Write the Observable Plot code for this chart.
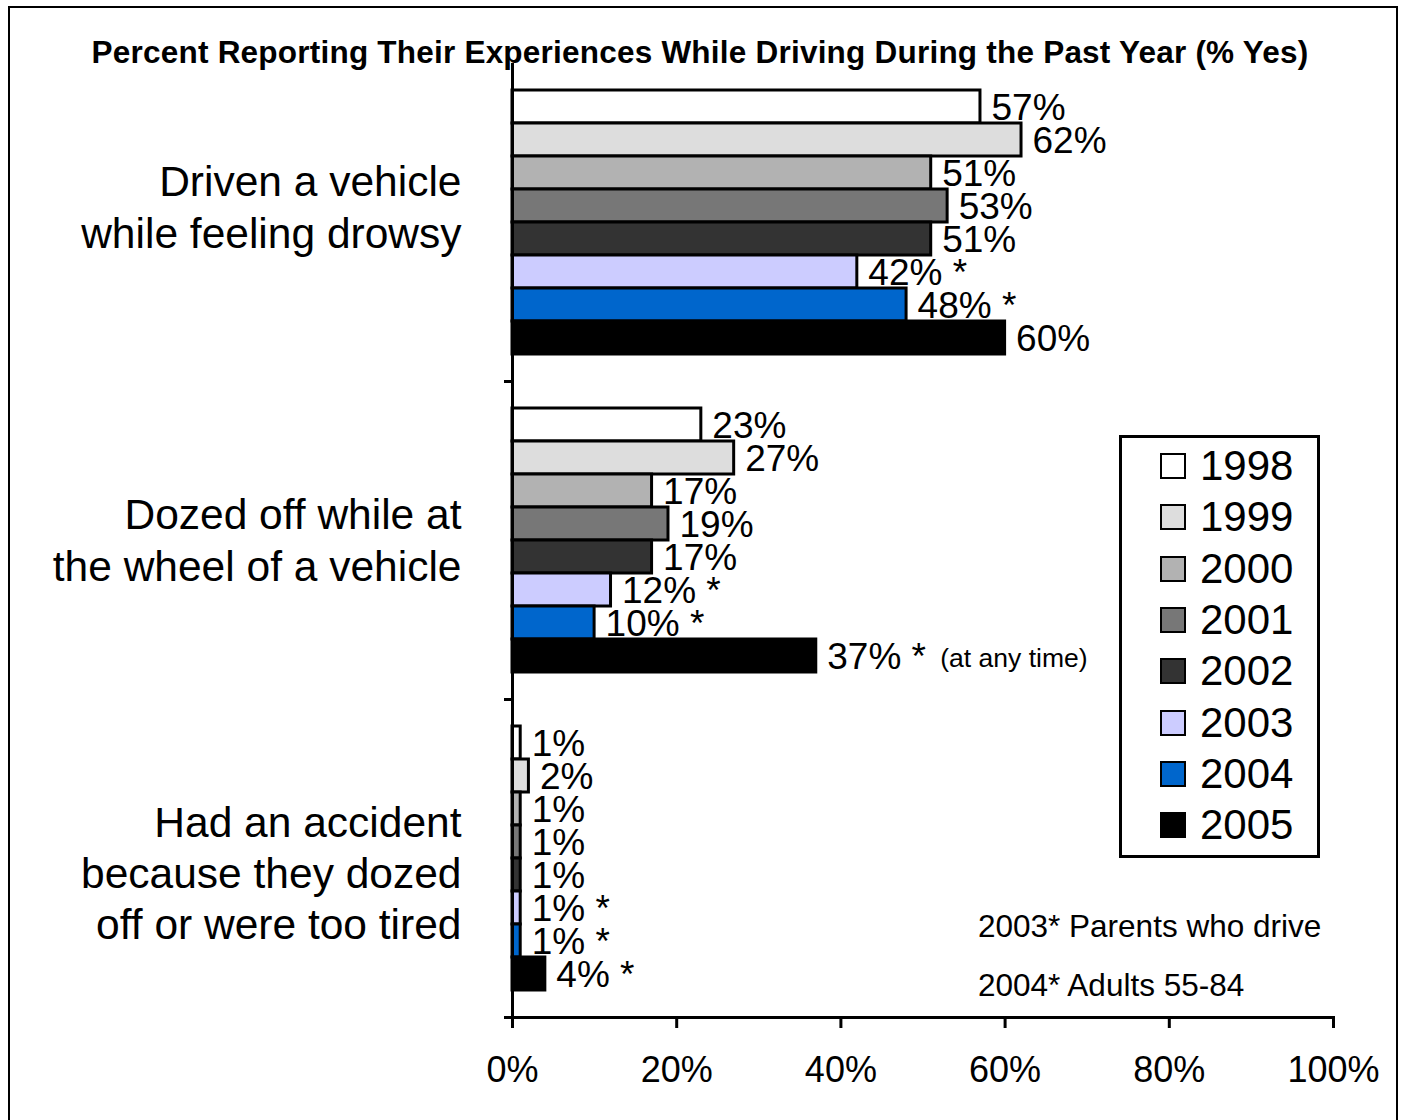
<!DOCTYPE html>
<html>
<head>
<meta charset="utf-8">
<script src="https://cdn.jsdelivr.net/npm/d3@7"></script>
<script src="https://cdn.jsdelivr.net/npm/@observablehq/plot@0.6"></script>
<style>
  body { margin: 0; background: #fff; font-family: Arial, "Liberation Sans", sans-serif; }
  #wrap { position: relative; width: 1404px; height: 1120px; overflow: hidden; }
  #border { position: absolute; left: 8px; top: 6px; width: 1390px; height: 1120px; border: 2px solid #000; box-sizing: border-box; }
  #chart { position: absolute; left: 0; top: 0; }
  #title { position: absolute; left: 0; width: 1400px; top: 32px; text-align: center; font-weight: bold; font-size: 31.5px; letter-spacing: 0.22px; line-height: 40px; }
  #legend { position: absolute; left: 1119px; top: 435px; width: 201px; height: 423px; border: 3px solid #000; box-sizing: border-box; background: #fff; }
  .row { position: absolute; left: 38px; height: 50px; display: flex; align-items: center; font-size: 42px; }
  .sw { width: 22px; height: 22px; border: 2px solid #000; margin-right: 14px; }
  .note { position: absolute; left: 978px; font-size: 31.5px; line-height: 36px; }
</style>
</head>
<body>
<div id="wrap">
  <div id="border"></div>
  <div id="chart"></div>
  <div id="title">Percent Reporting Their Experiences While Driving During the Past Year (% Yes)</div>
  <div id="legend"></div>
  <div class="note" id="note1" style="top:908px"></div>
  <div class="note" id="note2" style="top:967px"></div>
</div>
<script>
const categories = ["Driven a vehicle while feeling drowsy", "Dozed off while at the wheel of a vehicle", "Had an accident because they dozed off or were too tired"];
const categoryLabels = ["Driven a vehicle\nwhile feeling drowsy", "Dozed off while at\nthe wheel of a vehicle", "Had an accident\nbecause they dozed\noff or were too tired"];
const years = ["1998", "1999", "2000", "2001", "2002", "2003", "2004", "2005"];
const drowsy   = [57, 62, 51, 53, 51, 42, 48, 60];
const dozedOff = [23, 27, 17, 19, 17, 12, 10, 37];
const accident = [1, 2, 1, 1, 1, 1, 1, 4];
const starredDrowsy   = [false, false, false, false, false, true, true, false];
const starredDozedOff = [false, false, false, false, false, true, true, true];
const starredAccident = [false, false, false, false, false, true, true, true];
const extraNote = {category: categories[1], year: "2005", text: "(at any time)"};
const xTicks = [0, 20, 40, 60, 80, 100];
const notes = ["2003* Parents who drive", "2004* Adults 55-84"];
const colors = ["#ffffff", "#dddddd", "#b2b2b2", "#777777", "#333333", "#ccccff", "#0066cc", "#000000"];

const seriesValues = [drowsy, dozedOff, accident];
const seriesStars = [starredDrowsy, starredDozedOff, starredAccident];
const data = [];
categories.forEach((c, ci) => {
  years.forEach((y, yi) => {
    const v = seriesValues[ci][yi];
    data.push({category: c, year: y, value: v, label: v + "%" + (seriesStars[ci][yi] ? " *" : "")});
  });
});
const extra = data.filter(d => d.category === extraNote.category && d.year === extraNote.year)
  .map(d => ({...d, label: extraNote.text}));

const labelDy = [-17, -2, 13];
const FONT = "Arial, 'Liberation Sans', sans-serif";

const plot = Plot.plot({
  width: 1404,
  height: 1120,
  marginTop: 62,
  marginBottom: 103,
  marginLeft: 512,
  marginRight: 71,
  style: {fontFamily: FONT, background: "transparent", color: "#000", overflow: "visible"},
  x: {domain: [0, 100]},
  y: {domain: years, paddingInner: 0, paddingOuter: 0.78, axis: null},
  fy: {domain: categories, padding: 0, axis: null},
  color: {domain: years, range: colors},
  marks: [
    Plot.barX(data, {x: "value", y: "year", fy: "category", fill: "year", stroke: "#000", strokeWidth: 3}),
    Plot.text(data, {x: "value", y: "year", fy: "category", text: "label", textAnchor: "start", dx: 11, dy: 1, fontSize: 37, fill: "#000"}),
    Plot.text(extra, {x: "value", y: "year", fy: "category", text: "label", textAnchor: "start", dx: 124, dy: 3, fontSize: 26.5, fill: "#000"}),
    ...categories.map((c, i) => Plot.text([categoryLabels[i]], {fy: [c], frameAnchor: "left", textAnchor: "end", dx: -51, dy: labelDy[i], lineHeight: 1.21, fontSize: 42.5, fill: "#000"})),
    Plot.ruleX([0], {strokeWidth: 3}),
    Plot.frame({anchor: "bottom", insetLeft: -7, insetRight: 821, strokeWidth: 3}),
    Plot.frame({anchor: "bottom", facetAnchor: "bottom", insetLeft: -7, strokeWidth: 3}),
    Plot.axisX({ticks: xTicks, tickFormat: d => d + "%", tickSize: 11, strokeWidth: 3, fontSize: 36, tickPadding: 28, label: null})
  ]
});
document.getElementById("chart").appendChild(plot);

const legend = document.getElementById("legend");
years.forEach((y, i) => {
  const row = document.createElement("div");
  row.className = "row";
  row.style.top = (3 + i * 51.3) + "px";
  const sw = document.createElement("div");
  sw.className = "sw";
  sw.style.background = colors[i];
  row.appendChild(sw);
  row.appendChild(document.createTextNode(y));
  legend.appendChild(row);
});
document.getElementById("note1").textContent = notes[0];
document.getElementById("note2").textContent = notes[1];
</script>
</body>
</html>
